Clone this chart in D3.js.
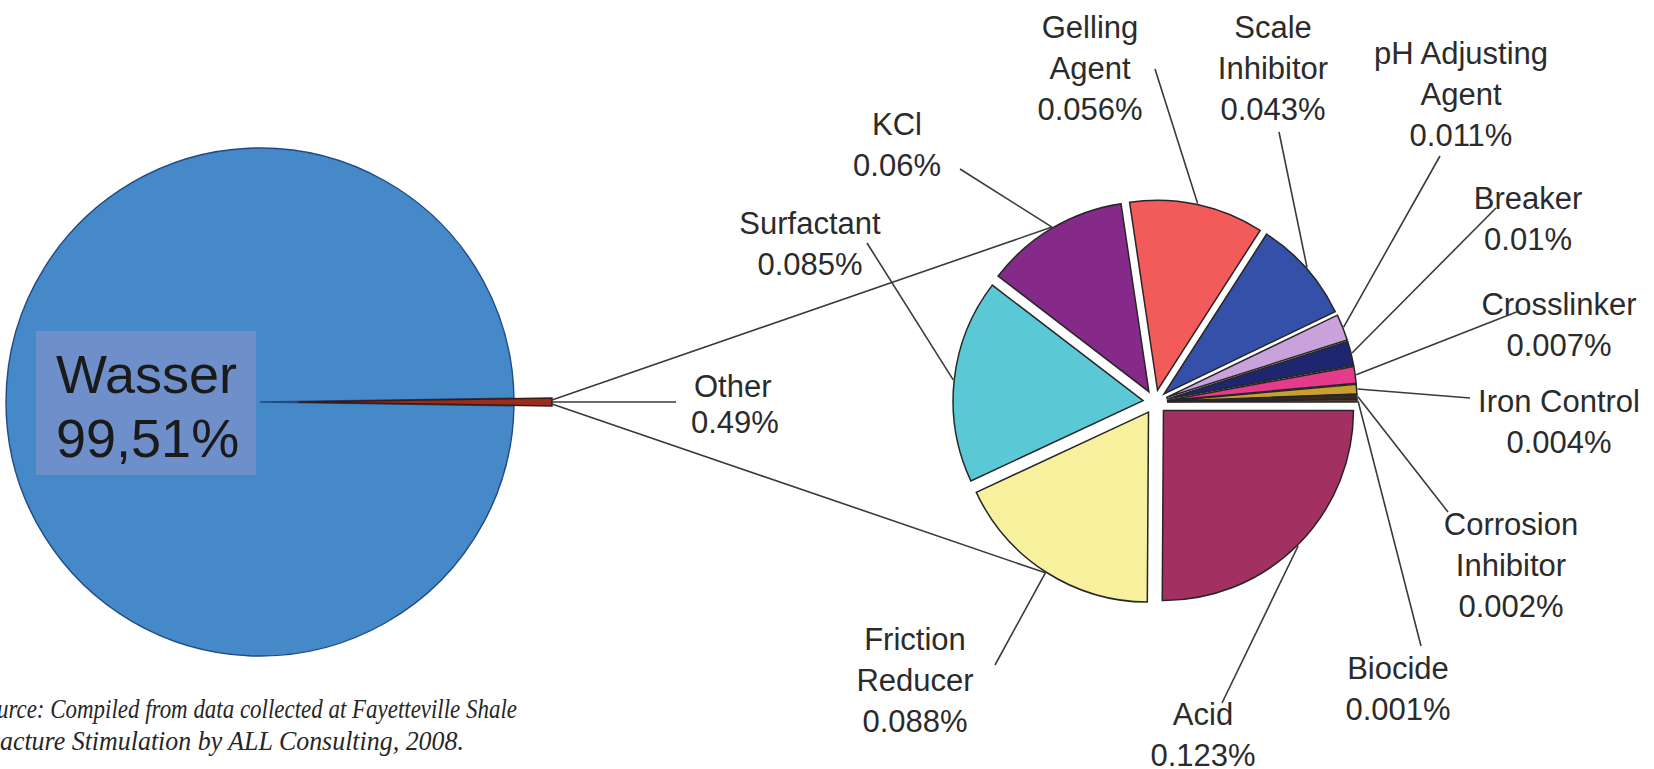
<!DOCTYPE html>
<html>
<head>
  <meta charset="utf-8" />
  <title>Fracking fluid composition</title>
  <script src="https://d3js.org/d3.v7.min.js"></script>
</head>
<style>
body { margin: 0; background: #fff; }
text { font-family: "Liberation Sans", Arial, sans-serif; }
.lab { font-size: 31px; fill: #2b2b2b; }
.cap { font-family: "Liberation Serif", "Times New Roman", serif; font-style: italic; font-size: 27px; fill: #262626; }
</style>
<body>
<div id="viz"></div>
<script>
'use strict';

// big pie
const mainNames = ['Wasser', 'Other'];
const mainValues = [99.51, 0.49];
const mainColors = ['#4589c8', '#9a2e1c'];

// additives breakdown (per cent of total fluid)
const names = ['Acid', 'Friction Reducer', 'Surfactant', 'KCl', 'Gelling Agent', 'Scale Inhibitor',
  'pH Adjusting Agent', 'Breaker', 'Crosslinker', 'Iron Control', 'Corrosion Inhibitor', 'Biocide'];
const values = [0.123, 0.088, 0.085, 0.06, 0.056, 0.043, 0.011, 0.01, 0.007, 0.004, 0.002, 0.001];
const valueLabels = ['0.123%', '0.088%', '0.085%', '0.06%', '0.056%', '0.043%', '0.011%', '0.01%',
  '0.007%', '0.004%', '0.002%', '0.001%'];
const nameLines = [['Acid'], ['Friction', 'Reducer'], ['Surfactant'], ['KCl'], ['Gelling', 'Agent'],
  ['Scale', 'Inhibitor'], ['pH Adjusting', 'Agent'], ['Breaker'], ['Crosslinker'], ['Iron Control'],
  ['Corrosion', 'Inhibitor'], ['Biocide']];
const colors = ['#a33063', '#f7f09c', '#5bc8d6', '#862a8a', '#f35a5a', '#3550a8',
  '#c9a2dc', '#1f2670', '#e63a8c', '#c8a030', '#3a2a20', '#7a5030'];

const sourceLines = ['Source: Compiled from data collected at Fayetteville Shale',
  'Fracture Stimulation by ALL Consulting, 2008.'];

// label layout: text centre x, first line centre y, leader start
const labelAt = [
  {x: 1203, y: 714, lx: 1222, ly: 703},
  {x: 915, y: 639, lx: 995, ly: 665},
  {x: 810, y: 223, lx: 867, ly: 243},
  {x: 897, y: 124, lx: 960, ly: 169},
  {x: 1090, y: 27, lx: 1155, ly: 69},
  {x: 1273, y: 27, lx: 1279, ly: 132},
  {x: 1461, y: 53, lx: 1440, ly: 156},
  {x: 1528, y: 198, lx: 1496, ly: 208},
  {x: 1559, y: 304, lx: 1519, ly: 311},
  {x: 1559, y: 401, lx: 1470, ly: 398},
  {x: 1511, y: 524, lx: 1448, ly: 512},
  {x: 1398, y: 668, lx: 1421, ly: 646},
];

const width = 1654;
const height = 769;
const lineH = 41;

const svg = d3.select('#viz').append('svg')
  .attr('width', width)
  .attr('height', height);

function polar(a, r) {
  return [Math.sin(a) * r, -Math.cos(a) * r];
}

// ---- left pie
const big = {cx: 260, cy: 402, r: 254, explode: 38};
const otherShare = mainValues[1] / d3.sum(mainValues);
const start = Math.PI / 2 + Math.PI * otherShare;
const bigArcs = d3.pie().sort(null).startAngle(start).endAngle(start + 2 * Math.PI)(mainValues);
const bigArc = d3.arc().innerRadius(0).outerRadius(big.r);

const gBig = svg.append('g').attr('transform', `translate(${big.cx},${big.cy})`);
gBig.selectAll('path').data(bigArcs).enter().append('path')
  .attr('d', bigArc)
  .attr('transform', (d, i) => {
    if (i === 0) return null;
    const p = polar((d.startAngle + d.endAngle) / 2, big.explode);
    return `translate(${p[0]},${p[1]})`;
  })
  .attr('fill', (d, i) => mainColors[i])
  .attr('stroke', (d, i) => i === 0 ? '#1f4a85' : '#3a1a14')
  .attr('stroke-width', (d, i) => i === 0 ? 1.4 : 1.5);

const otherMid = (bigArcs[1].startAngle + bigArcs[1].endAngle) / 2;
const tipRel = polar(otherMid, big.r + big.explode);
const tip = [big.cx + tipRel[0], big.cy + tipRel[1]];

// Wasser box
svg.append('rect')
  .attr('x', 36).attr('y', 331).attr('width', 220).attr('height', 144)
  .attr('fill', '#6f8fca');
svg.append('text').attr('x', 56).attr('y', 393)
  .style('font-size', '54px').style('fill', '#1a1a1a')
  .text(mainNames[0]);
svg.append('text').attr('x', 56).attr('y', 457)
  .style('font-size', '54px').style('fill', '#1a1a1a')
  .text('99,51%');

// ---- right pie
const small = {cx: 1155, cy: 402, r: 190, explode: 12};
const arcs = d3.pie().sort(null).startAngle(Math.PI / 2).endAngle(Math.PI / 2 + 2 * Math.PI)(values);
const arc = d3.arc().innerRadius(0).outerRadius(small.r);

const gSmall = svg.append('g').attr('transform', `translate(${small.cx},${small.cy})`);
gSmall.selectAll('path').data(arcs).enter().append('path')
  .attr('d', arc)
  .attr('transform', d => {
    const p = polar((d.startAngle + d.endAngle) / 2, small.explode);
    return `translate(${p[0]},${p[1]})`;
  })
  .attr('fill', (d, i) => colors[i])
  .attr('stroke', '#262626')
  .attr('stroke-width', 1.5);

// leader end points on each slice
const ends = arcs.map(d => {
  const p = polar((d.startAngle + d.endAngle) / 2, small.r + small.explode + 1);
  return [small.cx + p[0], small.cy + p[1]];
});

const lines = svg.append('g')
  .attr('stroke', '#3a3a3a')
  .attr('stroke-width', 1.6)
  .attr('fill', 'none');

// connectors from the Other slice to the breakdown pie
lines.append('line')
  .attr('x1', tip[0]).attr('y1', tip[1] - 2)
  .attr('x2', ends[3][0]).attr('y2', ends[3][1]);
lines.append('line')
  .attr('x1', tip[0]).attr('y1', tip[1] + 2)
  .attr('x2', ends[1][0]).attr('y2', ends[1][1]);
lines.append('line')
  .attr('x1', tip[0]).attr('y1', tip[1])
  .attr('x2', 676).attr('y2', tip[1]);

lines.selectAll('line.leader').data(labelAt).enter().append('line')
  .attr('class', 'leader')
  .attr('x1', d => d.lx).attr('y1', d => d.ly)
  .attr('x2', (d, i) => ends[i][0]).attr('y2', (d, i) => ends[i][1]);

// labels
const labs = svg.append('g').attr('class', 'lab');
names.forEach((n, i) => {
  const rows = nameLines[i].concat([valueLabels[i]]);
  const t = labs.append('text')
    .attr('text-anchor', 'middle');
  rows.forEach((r, k) => {
    t.append('tspan')
      .attr('x', labelAt[i].x)
      .attr('y', labelAt[i].y + k * lineH)
      .attr('dy', '0.35em')
      .text(r);
  });
});

const otherLab = labs.append('text').attr('text-anchor', 'start');
otherLab.append('tspan').attr('x', 694).attr('y', 386).attr('dy', '0.35em').text(mainNames[1]);
otherLab.append('tspan').attr('x', 691).attr('y', 422).attr('dy', '0.35em').text('0.49%');

// source note, left aligned and cut off at the left edge as in the original
const capEnds = [517, 464];
svg.selectAll('text.cap').data(sourceLines).enter().append('text')
  .attr('class', 'cap')
  .attr('x', -26)
  .attr('y', (d, i) => 718 + i * 32)
  .attr('textLength', (d, i) => capEnds[i] + 26)
  .attr('lengthAdjust', 'spacingAndGlyphs')
  .text(d => d);
</script>
</body>
</html>
